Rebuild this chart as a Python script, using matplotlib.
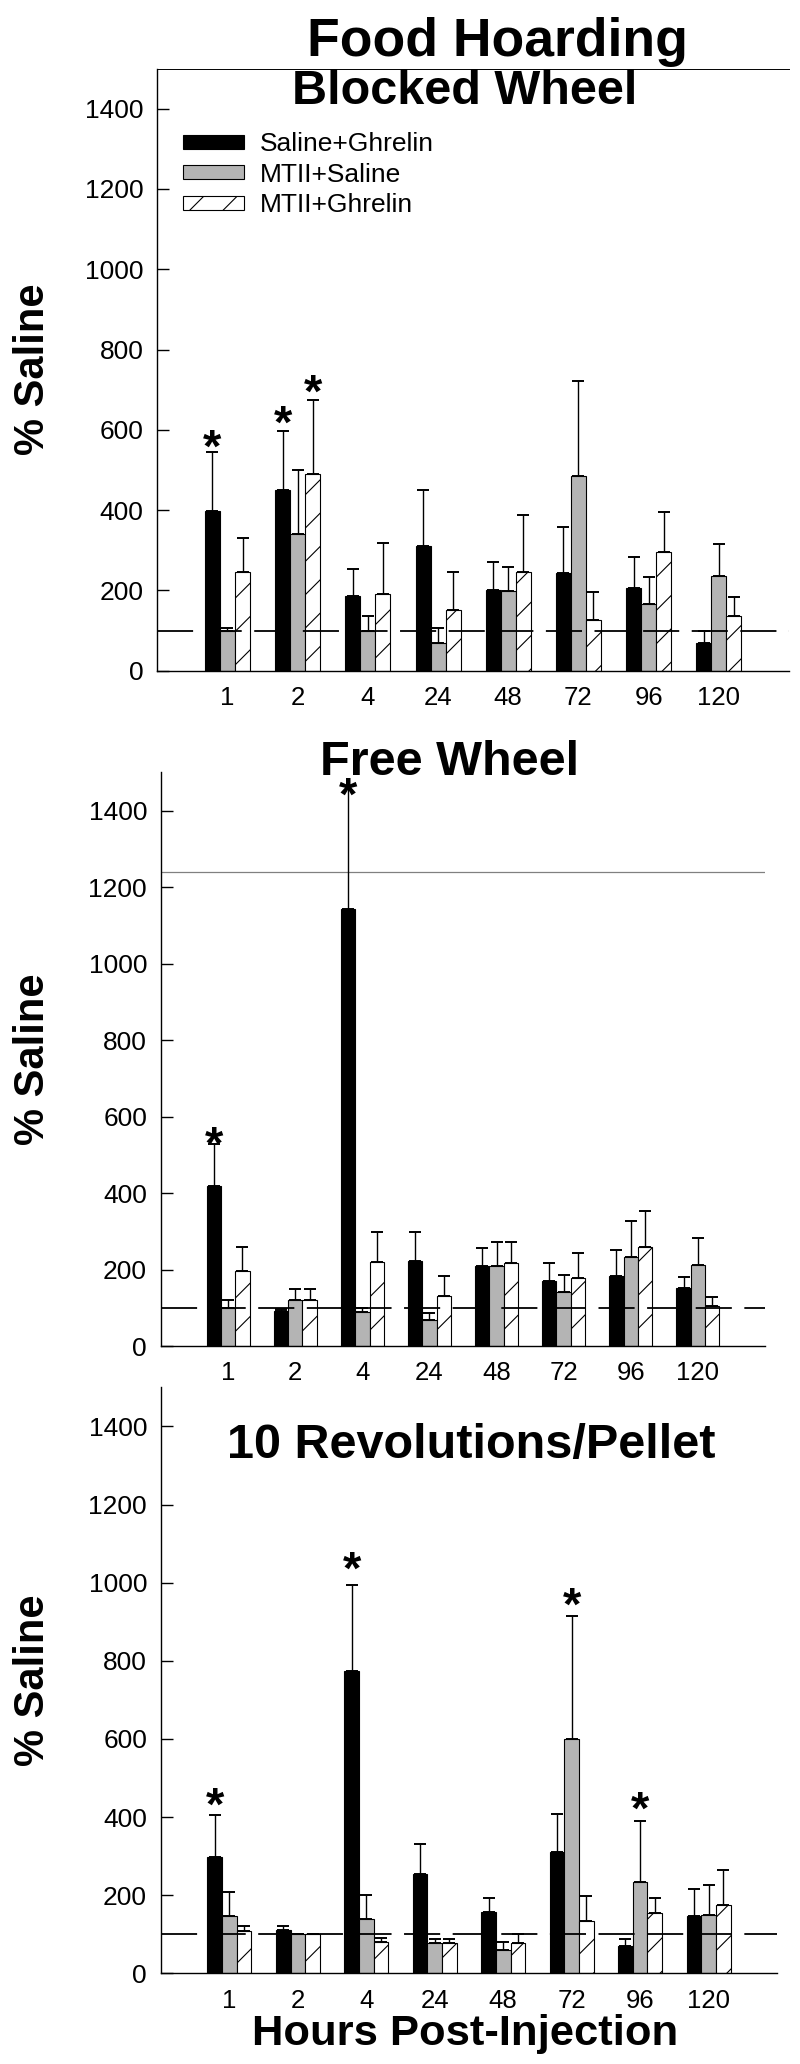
import matplotlib
matplotlib.use('Agg')
import matplotlib.pyplot as plt
import numpy as np
from matplotlib.patches import Patch

plt.rcParams['font.family'] = ['Liberation Sans', 'DejaVu Sans']
plt.rcParams['hatch.linewidth'] = 0.8
plt.rcParams['lines.scale_dashes'] = False

# ---------------- data ----------------
hours = ['1', '2', '4', '24', '48', '72', '96', '120']
series_names = ['Saline+Ghrelin', 'MTII+Saline', 'MTII+Ghrelin']

# Blocked wheel
bw_sal_ghr = [399, 451, 187, 310, 200, 244, 205, 69]
bw_sal_ghr_err = [146, 147, 66, 141, 71, 115, 79, 31]
bw_mtii_sal = [100, 340, 98, 69, 198, 486, 167, 236]
bw_mtii_sal_err = [6, 161, 39, 37, 60, 235, 66, 80]
bw_mtii_ghr = [246, 490, 191, 150, 245, 126, 296, 136]
bw_mtii_ghr_err = [84, 185, 127, 97, 143, 69, 99, 48]

# Free wheel
fw_sal_ghr = [418, 92, 1143, 223, 210, 170, 184, 151]
fw_sal_ghr_err = [111, 5, 322, 76, 47, 48, 67, 30]
fw_mtii_sal = [100, 120, 89, 68, 210, 141, 233, 211]
fw_mtii_sal_err = [20, 29, 11, 17, 62, 45, 93, 71]
fw_mtii_ghr = [196, 120, 220, 131, 218, 178, 259, 104]
fw_mtii_ghr_err = [64, 29, 78, 53, 53, 66, 94, 25]

# 10 revolutions / pellet
rv_sal_ghr = [298, 111, 774, 253, 158, 311, 70, 146]
rv_sal_ghr_err = [107, 11, 219, 77, 35, 96, 19, 71]
rv_mtii_sal = [147, 101, 138, 77, 60, 600, 233, 150]
rv_mtii_sal_err = [60, 0, 62, 10, 19, 314, 157, 77]
rv_mtii_ghr = [108, 101, 81, 77, 77, 135, 154, 174]
rv_mtii_ghr_err = [13, 0, 9, 12, 23, 63, 39, 91]

# significance stars: (group index, series index, star centre value)
bw_stars = [(0, 0, 575), (1, 0, 635), (1, 2, 712)]
fw_stars = [(0, 0, 547), (2, 0, 1459)]
rv_stars = [(0, 0, 449), (2, 0, 1053), (5, 1, 960), (6, 1, 439)]

baseline_pct = 100
fw_ref_line = 1240

# ---------------- style ----------------
W, H = 800, 2064
fig = plt.figure(figsize=(W / 100, H / 100), dpi=100)

face = ['black', '#b4b4b4', 'white']
hatches = [None, None, '/']
bw = 0.214
offsets = [-bw, 0, bw]


def px_axes(left, right, top, bottom):
    return fig.add_axes([left / W, 1 - bottom / H, (right - left) / W, (bottom - top) / H])


def draw_panel(ax, vals, errs, stars, top_spine=False):
    x = np.arange(len(hours))
    for k in range(3):
        ax.bar(x + offsets[k], vals[k], width=bw, color=face[k], edgecolor='black',
               linewidth=0.8, hatch=hatches[k], zorder=2)
        ax.errorbar(x + offsets[k], vals[k], yerr=[np.zeros(len(hours)), errs[k]],
                    fmt='none', ecolor='black', elinewidth=1.0, capsize=4.5,
                    capthick=1.4, zorder=3)
    ax.axhline(baseline_pct, color='black', lw=1.3, linestyle=(0, (26, 9)), zorder=4)
    for gi, si, yc in stars:
        ax.annotate('*', xy=(gi + offsets[si], yc), xytext=(0, -7),
                    textcoords='offset points', ha='center', va='center',
                    fontsize=34, fontweight='bold', zorder=5)
    ax.set_xlim(-1, 8)
    ax.set_ylim(0, 1500)
    ax.set_yticks(range(0, 1401, 200))
    ax.set_xticks(x)
    ax.set_xticklabels(hours)
    ax.spines['right'].set_visible(False)
    ax.spines['top'].set_visible(top_spine)
    ax.spines['top'].set_linewidth(0.7)
    for s in ['left', 'bottom']:
        ax.spines[s].set_linewidth(1.0)
    ax.tick_params(axis='y', direction='in', length=8.6, width=1.0, labelsize=19, pad=10)
    ax.tick_params(axis='x', length=0, labelsize=18.5, pad=11)


ax1 = px_axes(157.3, 789, 68.5, 670.7)
draw_panel(ax1, [bw_sal_ghr, bw_mtii_sal, bw_mtii_ghr],
           [bw_sal_ghr_err, bw_mtii_sal_err, bw_mtii_ghr_err], bw_stars, top_spine=True)
handles = [Patch(facecolor=face[k], edgecolor='black', linewidth=0.8, hatch=hatches[k])
           for k in range(3)]
ax1.legend(handles, series_names, loc='upper left',
           bbox_to_anchor=((183 - 157.3) / 631.7, (670.7 - 132) / 602.2),
           frameon=False, fontsize=19, handlelength=2.3, handleheight=0.45,
           handletextpad=0.6, labelspacing=0.25, borderpad=0, borderaxespad=0)

ax2 = px_axes(161, 765, 772.3, 1346)
draw_panel(ax2, [fw_sal_ghr, fw_mtii_sal, fw_mtii_ghr],
           [fw_sal_ghr_err, fw_mtii_sal_err, fw_mtii_ghr_err], fw_stars)
ax2.axhline(fw_ref_line, color='#808080', lw=0.9, zorder=1)

ax3 = px_axes(161, 777, 1387.3, 1973.3)
draw_panel(ax3, [rv_sal_ghr, rv_mtii_sal, rv_mtii_ghr],
           [rv_sal_ghr_err, rv_mtii_sal_err, rv_mtii_ghr_err], rv_stars)

# titles & labels
def ftext(x, y_base, s, size):
    fig.text(x / W, 1 - y_base / H, s, ha='center', va='baseline',
             fontsize=size, fontweight='bold')

ftext(497, 56, 'Food Hoarding', 38.5)
ftext(465, 103.6, 'Blocked Wheel', 35)
ftext(450, 774.6, 'Free Wheel', 35)
ftext(471, 1458.3, '10 Revolutions/Pellet', 35)
ftext(465, 2045, 'Hours Post-Injection', 31.3)

for yc in [369.6, 1059, 1680]:
    fig.text(33.5 / W, 1 - yc / H, '% Saline', rotation=90, ha='center', va='center',
             fontsize=30, fontweight='bold')

fig.savefig('out.png', dpi=100)
